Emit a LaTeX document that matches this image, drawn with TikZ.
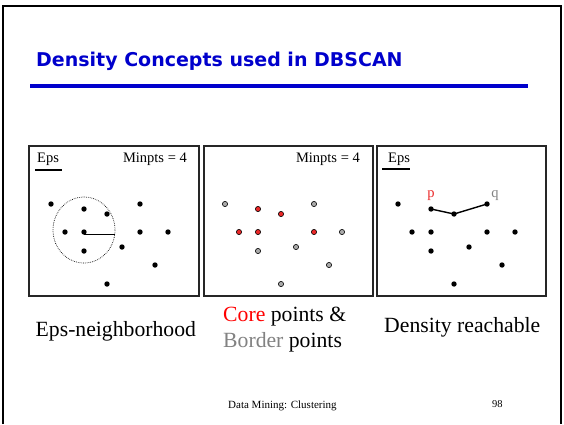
\documentclass[tikz,border=0pt]{standalone}
\usepackage{fontspec}
\setmainfont{Liberation Serif}
\newfontfamily\headfont{DejaVu Sans}
\definecolor{slideblue}{RGB}{0,0,204}
\definecolor{coreclr}{RGB}{235,40,40}
\definecolor{borderclr}{RGB}{170,170,170}
\definecolor{bordertxt}{RGB}{130,130,130}
\tikzset{
  panel/.style={draw=black!85, line width=1.5pt},
  dot/.style={circle, fill=black, inner sep=0pt, minimum size=5.4pt},
  coredot/.style={circle, draw=black, line width=0.6pt, fill=coreclr, inner sep=0pt, minimum size=5.2pt},
  borderdot/.style={circle, draw=black, line width=0.6pt, fill=borderclr, inner sep=0pt, minimum size=5.2pt},
  lab/.style={inner sep=0pt, font=\fontsize{14.5}{16}\selectfont},
  caption/.style={inner sep=0pt, font=\fontsize{21.7}{26}\selectfont},
}
\begin{document}
\begin{tikzpicture}[x=1pt, y=-1pt]
\useasboundingbox (0,0) rectangle (564,424);
\fill[white] (0,0) rectangle (564,424);
% slide frame
\draw[line width=2pt] (3,424) -- (3,5.5) -- (561,5.5) -- (561,424);

% heading and rule
\node[inner sep=0pt, anchor=base west, text=slideblue,
      font=\headfont\bfseries\fontsize{19}{22}\selectfont] (title) at (36,66)
      {Density Concepts used in DBSCAN};
\draw[slideblue, line width=3.5pt] (30,86) -- (528,86);

% three panels
\draw[panel] (29,146) rectangle (199,296);
\draw[panel] (204,146) rectangle (373,296);
\draw[panel] (377,146) rectangle (546,296);

% point coordinates (first panel)
\def\pts{1/51/204,2/84/209,3/107/214,4/65/232,5/84/232,6/84/251,7/122/247,8/140/204,9/140/232,10/168/232,11/155/265,12/107/284}

% panel 1: Eps-neighbourhood
\node[lab, anchor=base west] (eps1) at (37,162) {Eps};
\draw[line width=1.1pt] (35,170) -- (62,170);
\node[lab, anchor=base east] (min1) at (187,162) {Minpts = 4};
\draw[dash pattern=on 0.7pt off 1.1pt, line width=0.7pt] (84,230) ellipse [x radius=31, y radius=33];
\foreach \i/\x/\y in \pts { \node[dot] (a\i) at (\x,\y) {}; }
\coordinate (rim) at (115,234.5);
\draw[line width=1.6pt] ([yshift=-2.5pt]a5.center) -- (rim);

% panel 2: core and border points
\node[lab, anchor=base east] (min2) at (360,162) {Minpts = 4};
\foreach \i/\x/\y in \pts {
  \ifnum\i=2 \def\kind{coredot}\else
  \ifnum\i=3 \def\kind{coredot}\else
  \ifnum\i=4 \def\kind{coredot}\else
  \ifnum\i=5 \def\kind{coredot}\else
  \ifnum\i=9 \def\kind{coredot}\else
  \def\kind{borderdot}\fi\fi\fi\fi\fi
  \node[\kind] (b\i) at (\x+174,\y) {};
}

% panel 3: density reachable
\node[lab, anchor=base west] (eps3) at (388,162) {Eps};
\draw[line width=1.1pt] (382,169) -- (410,169);
\foreach \i/\x/\y in \pts { \node[dot] (c\i) at (\x+347,\y) {}; }
\draw[line width=1.4pt] (c2.center) -- (c3.center) -- (c8.center);
\node[lab, anchor=base, text=coreclr] (p) at (431,197) {p};
\node[lab, anchor=base, text=bordertxt] (q) at (495,197) {q};

% captions
\node[caption, anchor=base west] (cap1) at (35.5,336) {Eps-neighborhood};
\node[caption, anchor=base west] (cap2a) at (223,321) {\textcolor{red}{Core} points \&};
\node[caption, anchor=base west] (cap2b) at (223,347) {\textcolor{bordertxt}{Border} points};
\node[caption, anchor=base west] (cap3) at (384,332) {Density reachable};

% footer
\node[inner sep=0pt, anchor=base west, font=\fontsize{11}{13}\selectfont] (foot) at (228,408) {Data Mining: Clustering};
\node[inner sep=0pt, anchor=base west, font=\fontsize{10.5}{13}\selectfont] (page) at (492,407) {98};
\end{tikzpicture}
\end{document}
